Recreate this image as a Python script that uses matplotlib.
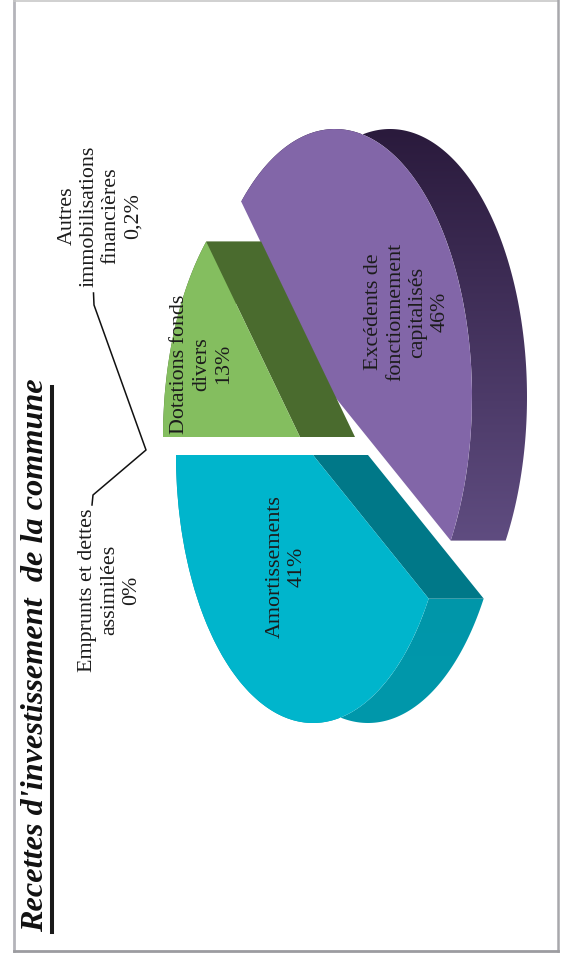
import numpy as np
import matplotlib
matplotlib.use("Agg")
import matplotlib.pyplot as plt
from matplotlib.colors import LinearSegmentedColormap
from matplotlib.patches import Polygon
from matplotlib.transforms import Affine2D

plt.rcParams['font.family'] = ['Liberation Serif', 'DejaVu Serif']

# chart data
categories = ["Amortissements", "Excédents de\nfonctionnement\ncapitalisés",
              "Dotations fonds\ndivers", "Autres\nimmobilisations\nfinancières",
              "Emprunts et dettes\nassimilées"]
values = [41, 46, 13, 0.2, 0]
value_labels = ["41%", "46%", "13%", "0,2%", "0%"]
title = "Recettes d'investissement  de la commune"

# the pie is a flattened ellipse, turned a quarter turn on the page
rx = 137
ry = 268
depth = 55
centers = [(313, 455), (335, 397), (300, 437)]
top_colors = ["#00b5cc", "#8266a8", "#84be5f"]
cut_colors = ["#007888", "#3a2a52", "#4a6b2e"]
rim_colors = [("#0094a8", "#0098ab"), ("#2a1a3c", "#5f4c80"), ("#4a6b2e", "#4a6b2e")]
label_pos = [(286, 567), (407, 312), (202, 364), (100, 216), (110, 590)]

fig = plt.figure(figsize=(5.65, 9.66), dpi=100)
ax = fig.add_axes([0, 0, 1, 1])


def to_page(t, cx, cy):
    # t in degrees as the pie wedge has it, gives page pixels
    t = np.radians(t)
    return cx - rx * np.sin(t), cy + ry * np.cos(t)


# the two tiny slices have no visible wedge, they only get a label and a leader
wedges, _ = ax.pie(values[:3], startangle=90, counterclock=False, radius=1)
ax.set_aspect("auto")

for i in [2, 1, 0]:
    w = wedges[i]
    cx, cy = centers[i]
    # rim of the slice, with a gradient along the page height
    t = np.linspace(w.theta1, w.theta2, 200)
    px, py = to_page(t, cx, cy)
    rim = np.r_[np.c_[px, py], np.c_[px + depth, py][::-1]]
    rim_patch = Polygon(rim, closed=True, fc="none", ec="none", zorder=i + 2)
    ax.add_patch(rim_patch)
    cmap = LinearSegmentedColormap.from_list("rim", rim_colors[i])
    im = ax.imshow(np.linspace(0, 1, 256)[:, None], cmap=cmap, aspect="auto",
                   extent=(px.min(), px.max() + depth, py.max(), py.min()),
                   zorder=i + 2)
    im.set_clip_path(rim_patch)
    # cut face, only the one turned towards the reader
    if i != 1:
        t_cut = w.theta1 if i == 0 else w.theta2
        ex, ey = to_page(t_cut, cx, cy)
        ax.add_patch(Polygon([(cx, cy), (cx + depth, cy), (ex + depth, ey), (ex, ey)],
                             closed=True, fc=cut_colors[i], ec="none", zorder=i + 2.1))
    # top face comes from the pie wedge itself
    w.set_transform(Affine2D.from_values(0, ry, -rx, 0, cx, cy) + ax.transData)
    w.set_facecolor(top_colors[i])
    w.set_edgecolor("none")
    w.set_zorder(i + 2.2)

ax.set_xlim(0, 565)
ax.set_ylim(966, 0)
ax.axis("off")

# page frame
ax.plot([14, 14], [0, 951], color="#b4b4ba", lw=2, zorder=1)
ax.plot([14, 558], [0.5, 0.5], color="#c8c8c8", lw=1.2, zorder=1)
ax.plot([558, 558], [0, 951], color="#a8a8ac", lw=1.8, zorder=1)
ax.plot([14, 558], [951, 951], color="#9c9ca0", lw=2, zorder=1)

# title and its underline
ax.text(36, 655, title, rotation=90, ha="center", va="center", fontsize=23.2,
        fontweight="bold", fontstyle="italic", color="#111111", zorder=10)
ax.plot([51.5, 51.5], [387, 932], color="#1a1a1a", lw=2.9, zorder=10)

# labels
for name, val, (lx, ly) in zip(categories, value_labels, label_pos):
    ax.text(lx, ly, name + "\n" + val, rotation=90, ha="center", va="center",
            multialignment="center", fontsize=15.8, linespacing=1.22,
            color="#1c1c1c", zorder=10)

# leader lines of the two tiny slices
ax.plot([93.5, 94, 146, 93, 92], [293, 305, 450, 495, 505], color="#111111", lw=1.1, zorder=10)

fig.savefig("out.png", dpi=100)
